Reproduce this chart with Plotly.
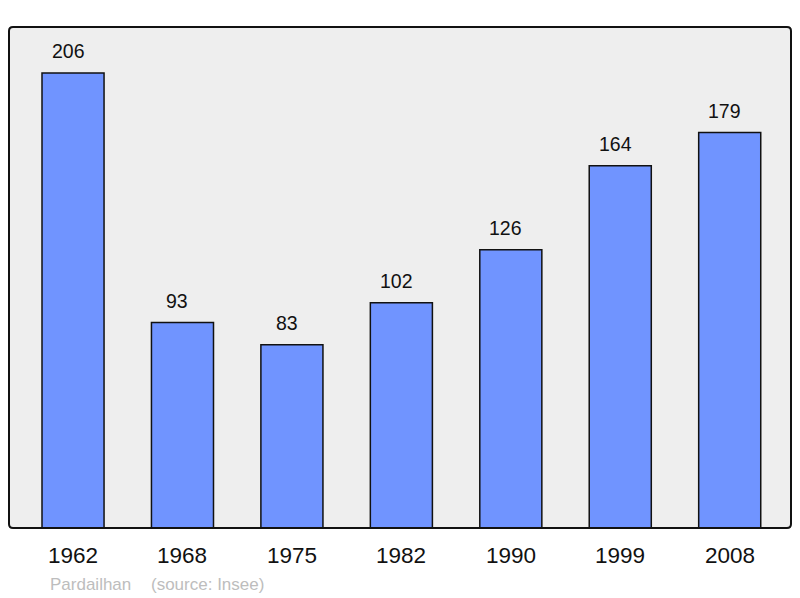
import plotly.graph_objects as go

years = ["1962", "1968", "1975", "1982", "1990", "1999", "2008"]
population = [206, 93, 83, 102, 126, 164, 179]
commune = "Pardailhan"
source = "(source: Insee)"

FONT = "Liberation Sans, Arial, sans-serif"
W, H = 782, 501  # plot area size in pixels

fig = go.Figure()
fig.add_trace(go.Bar(
    x=years, y=population, width=0.567,
    marker=dict(color="#7094FF", line=dict(color="#111111", width=1.5)),
    hoverinfo="x+y",
))

annotations = []
for i, (yr, v) in enumerate(zip(years, population)):
    annotations.append(dict(x=i, y=v, text=str(v), showarrow=False, xref="x", yref="y",
                            yanchor="bottom", yshift=9, xshift=-5,
                            font=dict(family=FONT, size=19.5, color="#111111")))
    annotations.append(dict(x=i, y=0, text=yr, showarrow=False, xref="x", yref="y",
                            yanchor="top", yshift=-13,
                            font=dict(family=FONT, size=22.5, color="#111111")))

ysrc = (528 - 584) / H
annotations.append(dict(x=(48 - 9) / W, y=ysrc, xref="paper", yref="paper", text=commune,
                        showarrow=False, xanchor="left", yanchor="middle",
                        font=dict(family=FONT, size=17, color="#BDBDBD")))
annotations.append(dict(x=(149 - 9) / W, y=ysrc, xref="paper", yref="paper", text=source,
                        showarrow=False, xanchor="left", yanchor="middle",
                        font=dict(family=FONT, size=17, color="#BDBDBD")))

# rounded frame around plot area
rx, ry = 4 / W, 4 / H
path = (f"M {rx},0 L {1-rx},0 Q 1,0 1,{ry} L 1,{1-ry} Q 1,1 {1-rx},1 "
        f"L {rx},1 Q 0,1 0,{1-ry} L 0,{ry} Q 0,0 {rx},0 Z")
fig.add_shape(type="path", xref="paper", yref="paper", path=path,
              line=dict(color="#111111", width=2), layer="above")

fig.update_layout(
    width=800, height=598,
    margin=dict(l=9, r=9, t=27, b=70),
    paper_bgcolor="white", plot_bgcolor="rgba(0,0,0,0)",
    showlegend=False,
    annotations=annotations,
    xaxis=dict(type="category", range=[-0.585, 6.56], showticklabels=False, showgrid=False,
               zeroline=False, fixedrange=True),
    yaxis=dict(range=[0, 226.8], showticklabels=False, showgrid=False, zeroline=False,
               fixedrange=True),
)
fig.add_shape(type="path", xref="paper", yref="paper", path=path,
              line=dict(width=0), fillcolor="#EEEEEE", layer="below")

fig.write_html("out.html", config={"displayModeBar": False},
               post_script="document.body.style.margin='0';")
